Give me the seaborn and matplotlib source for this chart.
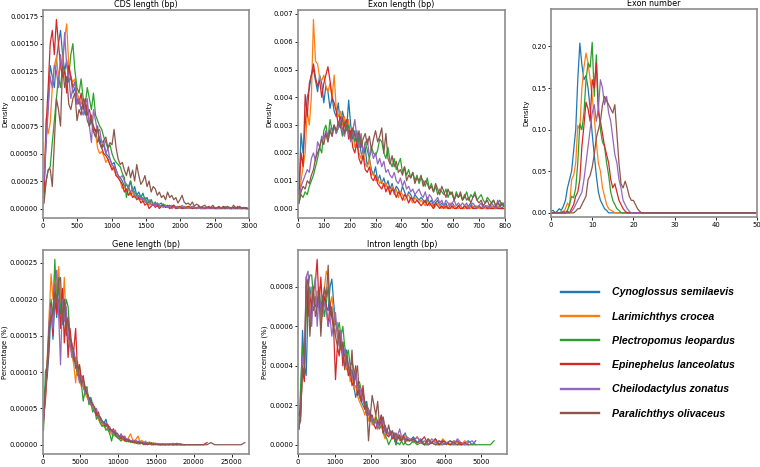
import numpy as np
import pandas as pd
import matplotlib
matplotlib.use("Agg")
import matplotlib.pyplot as plt
from matplotlib.lines import Line2D
import seaborn as sns

nan = np.nan

species = ["Cynoglossus semilaevis", "Larimichthys crocea", "Plectropomus leopardus",
           "Epinephelus lanceolatus", "Cheilodactylus zonatus", "Paralichthys olivaceus"]
colors = sns.color_palette("tab10", 6)

# ---- CDS length, bin centres every 30 bp, values x1e-5
cds_x = np.arange(15, 3000, 30)
cds_cyno = [20, 60, 95, 130, 120, 110, 135, 150, 162, 140, 125, 135, 115, 120, 105, 110, 95, 100, 90, 95,
            85, 95, 75, 80, 70, 72, 60, 65, 55, 58, 50, 48, 45, 40, 42, 35, 30, 28, 25, 20,
            22, 18, 25, 15, 20, 12, 15, 10, 14, 8, 10, 5, 8, 3, 6, 2, 4, 5, 2, 3,
            2, 3, 1, 2, 0, 2, 1, 0, 2, 1, 0, 1, 2, 0, 1, 0, 1, 0, 0, 1,
            0, 1, 0, 0, 1, 0, 0, 1, 0, 0, 1, 0, 0, 0, 1, 0, 0, 0, 0, 0]
cds_lari = [15, 82, 68, 78, 110, 130, 138, 120, 130, 135, 155, 168, 130, 120, 115, 118, 105, 100, 95, 98,
            90, 92, 80, 85, 70, 68, 55, 50, 52, 48, 42, 45, 40, 38, 35, 30, 28, 25, 18, 20,
            15, 18, 12, 15, 10, 12, 8, 10, 6, 8, 5, 3, 6, 4, 2, 5, 3, 2, 4, 1,
            2, 1, 3, 1, 0, 2, 1, 0, 1, 2, 0, 1, 0, 1, 0, 0, 1, 0, 0, 1,
            0, 0, 1, 0, 0, 1, 0, 0, 0, 1, 0, 0, 1, 0, 0, 0, 0, 1, 0, 0]
cds_plec = [10, 25, 35, 38, 60, 80, 100, 120, 110, 130, 125, 115, 120, 140, 150, 125, 110, 105, 118, 100,
            95, 110, 100, 90, 105, 85, 80, 75, 72, 65, 60, 55, 58, 50, 45, 42, 40, 38, 32, 28,
            10, 20, 25, 18, 15, 12, 10, 12, 8, 10, 6, 5, 8, 4, 3, 5, 2, 3, 4, 2,
            3, 1, 2, 3, 1, 0, 2, 1, 0, 1, 2, 1, 0, 1, 0, 1, 0, 0, 1, 0,
            1, 0, 0, 1, 0, 0, 1, 0, 2, 0, 0, 1, 0, 0, 0, 1, 0, 0, 0, 0]
cds_epin = [15, 75, 110, 150, 162, 140, 172, 150, 130, 120, 125, 105, 130, 120, 110, 115, 100, 95, 105, 90,
            100, 85, 90, 80, 75, 70, 72, 60, 55, 50, 48, 45, 40, 35, 38, 30, 28, 25, 22, 15,
            18, 12, 15, 10, 12, 8, 10, 5, 7, 3, 5, 0, 2, 4, 1, 3, 0, 2, 3, 1,
            2, 0, 1, 3, 0, 1, 2, 0, 1, 0, 2, 1, 0, 1, 0, 2, 0, 1, 0, 0,
            1, 0, 1, 0, 0, 1, 0, 2, 0, 1, 0, 0, 1, 0, 2, 0, 1, 0, 1, 0]
cds_chei = [25, 60, 90, 120, 110, 130, 125, 110, 140, 125, 160, 130, 120, 100, 110, 115, 95, 100, 90, 85,
            95, 100, 75, 60, 90, 80, 70, 72, 60, 62, 50, 55, 45, 40, 38, 35, 30, 28, 30, 25,
            22, 20, 15, 18, 12, 10, 12, 8, 10, 6, 5, 8, 3, 5, 2, 4, 3, 2, 1, 3,
            1, 2, 0, 1, 2, 1, 0, 3, 1, 0, 1, 0, 2, 1, 0, 1, 0, 0, 1, 0,
            0, 1, 0, 1, 0, 0, 1, 0, 0, 1, 0, 0, 0, 1, 0, 0, 0, 1, 0, 0]
cds_para = [5, 25, 35, 36, 20, 60, 100, 90, 75, 130, 110, 120, 95, 90, 100, 105, 80, 90, 85, 100,
            95, 80, 75, 85, 70, 65, 75, 60, 55, 62, 65, 55, 60, 58, 72, 55, 45, 40, 42, 35,
            30, 38, 28, 35, 25, 40, 30, 22, 25, 30, 20, 25, 15, 20, 18, 12, 15, 10, 12, 8,
            15, 10, 12, 8, 10, 5, 8, 12, 6, 4, 5, 3, 6, 2, 4, 3, 1, 2, 3, 1,
            2, 1, 3, 0, 1, 2, 0, 1, 0, 2, 1, 0, 3, 1, 0, 2, 0, 1, 0, 0]

# ---- Exon length, bin centres every 8 bp, values x1e-4
exl_x = np.arange(4, 800, 8)
exl_cyno = [5, 27, 20, 30, 40, 43, 48, 50, 46, 42, 48, 45, 38, 44, 42, 36, 40, 35, 33, 38,
            30, 35, 32, 28, 39, 30, 25, 28, 22, 26, 20, 18, 22, 15, 18, 14, 12, 15, 10, 12,
            9, 11, 8, 10, 7, 9, 6, 8, 7, 5, 8, 6, 4, 6, 5, 3, 5, 4, 3, 4,
            3, 2, 4, 2, 3, 1, 2, 3, 1, 2, 1, 2, 0, 1, 2, 1, 0, 1, 1, 0,
            1, 0, 1, 2, 0, 1, 0, 1, 0, 1, 0, 0, 1, 0, 1, 0, 0, 1, 0, 1]
exl_lari = [2, 10, 15, 20, 35, 30, 40, 68, 53, 52, 47, 46, 48, 44, 42, 45, 40, 48, 36, 33,
            35, 30, 33, 28, 32, 25, 28, 22, 24, 20, 18, 21, 16, 15, 18, 12, 13, 10, 11, 9,
            10, 8, 9, 7, 6, 8, 5, 7, 4, 6, 5, 3, 4, 5, 3, 2, 4, 3, 2, 3,
            2, 1, 3, 1, 2, 0, 1, 2, 1, 0, 1, 0, 1, 2, 0, 1, 0, 0, 1, 0,
            0, 1, 0, 0, 1, 0, 1, 0, 0, 1, 0, 0, 0, 1, 0, 0, 1, 0, 0, 0]
exl_plec = [2, 5, 4, 6, 5, 8, 10, 12, 15, 18, 22, 20, 28, 30, 25, 32, 28, 30, 27, 29,
            30, 26, 31, 28, 30, 25, 27, 24, 28, 22, 26, 20, 24, 21, 18, 22, 20, 19, 21, 25,
            24, 20, 18, 22, 17, 15, 18, 14, 16, 18, 13, 15, 12, 14, 11, 13, 10, 12, 9, 11,
            10, 8, 11, 7, 9, 6, 8, 5, 7, 6, 5, 7, 4, 6, 5, 3, 6, 4, 5, 3,
            4, 6, 3, 5, 4, 6, 3, 4, 5, 3, 2, 4, 3, 2, 3, 1, 2, 3, 1, 2]
exl_epin = [5, 20, 15, 41, 33, 45, 48, 52, 47, 44, 46, 40, 45, 48, 51, 46, 40, 38, 35, 30,
            33, 28, 30, 32, 25, 28, 22, 20, 24, 18, 16, 19, 14, 13, 15, 11, 10, 12, 9, 8,
            7, 9, 6, 8, 5, 7, 6, 4, 6, 5, 3, 5, 4, 2, 4, 3, 2, 3, 2, 1,
            2, 3, 1, 2, 1, 0, 2, 1, 0, 1, 0, 1, 0, 0, 1, 0, 0, 1, 0, 0,
            1, 0, 0, 1, 0, 0, 0, 1, 0, 0, 1, 0, 0, 0, 0, 1, 0, 0, 0, 0]
exl_chei = [3, 8, 10, 12, 14, 13, 18, 20, 17, 24, 22, 26, 25, 28, 24, 29, 26, 30, 27, 29,
            32, 28, 26, 30, 27, 24, 28, 32, 25, 22, 27, 20, 23, 25, 19, 21, 18, 20, 16, 18,
            15, 17, 13, 14, 12, 11, 13, 10, 9, 11, 8, 10, 7, 8, 6, 7, 5, 6, 7, 5,
            4, 6, 3, 5, 4, 2, 3, 4, 2, 3, 1, 3, 2, 1, 2, 3, 1, 2, 1, 2,
            1, 2, 0, 1, 2, 1, 0, 1, 2, 0, 1, 1, 0, 2, 1, 0, 3, 1, 2, 1]
exl_para = [2, 6, 8, 7, 10, 9, 12, 14, 18, 20, 22, 25, 23, 27, 24, 28, 26, 30, 28, 31,
            29, 33, 27, 30, 28, 25, 29, 26, 24, 28, 22, 25, 27, 23, 26, 21, 25, 28, 24, 26,
            29, 20, 27, 18, 16, 19, 15, 17, 13, 14, 12, 15, 10, 12, 11, 13, 9, 11, 10, 12,
            8, 10, 9, 7, 8, 6, 9, 7, 5, 8, 6, 4, 7, 5, 6, 3, 5, 4, 6, 3,
            5, 3, 4, 2, 4, 5, 3, 2, 3, 1, 2, 3, 1, 2, 3, 1, 2, 1, 2, 1]

# ---- Exon number, every 0.5 up to 22, then flat to 50, values x1e-3
exn_x = list(np.arange(0, 22.5, 0.5)) + [50]
exn_cyno = [2, 3, 0, 2, 5, 3, 8, 15, 30, 40,
            50, 75, 100, 160, 204, 178, 160, 165, 150, 125,
            95, 70, 45, 25, 15, 10, 5, 3, 0, 0,
            0, 0, 0, 0, 0, 0, 0, 0, 0, 0,
            0, 0, 0, 0, 0, 0]
exn_lari = [0, 0, 0, 0, 0, 2, 0, 5, 12, 8,
            40, 45, 60, 105, 100, 150, 175, 192, 180, 160,
            140, 115, 85, 60, 50, 30, 20, 10, 5, 3,
            2, 0, 0, 0, 0, 0, 0, 0, 0, 0,
            0, 0, 0, 0, 0, 0]
exn_plec = [0, 0, 0, 0, 0, 0, 2, 0, 3, 10,
            20, 18, 30, 60, 107, 100, 120, 160, 180, 175,
            205, 140, 190, 130, 100, 85, 80, 60, 45, 25,
            15, 10, 5, 3, 0, 0, 0, 0, 0, 0,
            0, 0, 0, 0, 0, 0]
exn_epin = [0, 0, 0, 0, 0, 0, 0, 0, 2, 0,
            5, 10, 20, 25, 40, 80, 105, 133, 125, 110,
            160, 150, 180, 120, 110, 95, 80, 70, 60, 40,
            30, 35, 25, 15, 10, 5, 2, 0, 0, 0,
            0, 0, 0, 0, 0, 0]
exn_chei = [0, 0, 0, 0, 0, 0, 0, 0, 0, 0,
            2, 5, 10, 15, 20, 25, 40, 60, 80, 100,
            120, 130, 110, 125, 160, 150, 130, 140, 120, 110,
            90, 70, 60, 40, 30, 15, 10, 5, 2, 0,
            0, 0, 0, 0, 0, 0]
exn_para = [0, 0, 0, 0, 0, 0, 0, 0, 0, 0,
            0, 0, 2, 5, 5, 10, 15, 20, 40, 45,
            55, 70, 90, 100, 110, 130, 140, 135, 130, 125,
            120, 130, 95, 60, 35, 30, 38, 30, 20, 15,
            15, 10, 5, 2, 0, 0]

# ---- Gene length, every 250 bp to 16 kb then every 500 bp, values x1e-6
gene_x = list(np.arange(125, 16000, 250)) + list(np.arange(16250, 27000, 500))
gene_cyno = [40, 80, 95, 130, 190, 145, 200, 175, 220, 190, 165, 200, 150, 170, 140, 130,
             120, 110, 100, 90, 95, 80, 75, 70, 60, 65, 55, 50, 45, 40, 38, 32,
             30, 35, 25, 22, 20, 15, 18, 12, 10, 15, 8, 10, 6, 8, 5, 4,
             6, 3, 5, 2, 4, 1, 3, 2, 1, 3, 0, 2, 1, 0, 1, 0] + [0, 1, 0, 0, 1] + [nan] * 17
gene_lari = [30, 70, 120, 180, 235, 200, 240, 210, 245, 200, 180, 230, 160, 150, 135, 125,
             110, 85, 115, 90, 80, 85, 70, 65, 60, 55, 50, 45, 42, 35, 30, 28,
             25, 22, 20, 18, 15, 12, 14, 10, 8, 12, 6, 8, 5, 10, 15, 8,
             5, 8, 12, 4, 6, 3, 5, 2, 4, 1, 3, 0, 2, 1, 0, 1] + [0, 1, 0, 0, 1, 0] + [nan] * 16
gene_plec = [20, 100, 110, 150, 200, 175, 255, 190, 230, 180, 210, 170, 200, 190, 150, 130,
             115, 120, 95, 110, 85, 60, 75, 80, 55, 60, 45, 50, 35, 40, 30, 25,
             28, 20, 22, 15, 5, 18, 12, 10, 8, 5, 10, 6, 4, 7, 3, 5,
             2, 4, 1, 3, 2, 0, 2, 1, 3, 0, 1, 2, 0, 1, 0, 1] + [0, 1, 0, 2, 0] + [nan] * 17
gene_epin = [35, 60, 100, 160, 195, 150, 220, 180, 200, 160, 215, 140, 180, 120, 160, 135,
             130, 160, 100, 110, 90, 95, 75, 70, 65, 60, 55, 50, 40, 45, 35, 30,
             30, 25, 28, 20, 18, 22, 15, 12, 10, 8, 10, 5, 8, 4, 6, 3,
             5, 2, 4, 1, 3, 2, 0, 1, 2, 0, 1, 0, 1, 0, 0, 1] + [0, 0, 1, 0, 0, 0, 0, 0, 0, 0, 0, 3] + [nan] * 10
gene_chei = [30, 70, 110, 170, 190, 160, 215, 240, 180, 110, 200, 170, 190, 150, 140, 120,
             130, 115, 100, 85, 95, 80, 70, 75, 60, 55, 58, 45, 50, 38, 35, 30,
             28, 30, 22, 25, 18, 15, 20, 12, 10, 14, 8, 12, 6, 8, 5, 6,
             4, 6, 3, 5, 2, 4, 1, 3, 2, 1, 0, 2, 1, 0, 1, 0] + [1, 0, 2, 0, 1, 0] + [nan] * 16
gene_para = [35, 75, 115, 160, 175, 180, 210, 195, 225, 230, 170, 200, 160, 175, 145, 140,
             125, 105, 110, 95, 85, 90, 80, 70, 65, 60, 55, 52, 45, 40, 38, 33,
             30, 28, 25, 22, 20, 18, 15, 16, 12, 10, 12, 8, 7, 6, 5, 4,
             5, 3, 4, 2, 3, 1, 2, 0, 1, 2, 0, 1, 0, 1, 0, 0] + [1, 0, 0, 1, 0, 0, 0, 0, 0, 0, 0, 0, 3, 0, 0, 0, 0, 0, 0, 0, 0, 3]

# ---- Intron length, every 50 bp to 3 kb then every 100 bp, values x1e-5
intr_x = list(np.arange(25, 3000, 50)) + list(np.arange(3050, 5400, 100))
intr_cyno = [8, 20, 58, 40, 35, 70, 80, 72, 68, 75, 70, 80, 65, 75, 78, 70, 68, 80, 84, 72,
             62, 60, 55, 50, 52, 45, 48, 40, 35, 38, 30, 24, 28, 25, 22, 20, 18, 22, 15, 16,
             14, 12, 13, 10, 12, 15, 8, 10, 7, 5, 6, 7, 4, 0, 5, 3, 2, 4, 6, 3] + \
            [2, 4, 1, 3, 0, 2, 1, 3, 0, 2, 1, 0, 2, 1, 0, 1, 2, 0, 2] + [nan] * 5
intr_lari = [8, 15, 40, 35, 75, 70, 65, 80, 72, 70, 78, 75, 60, 70, 80, 88, 85, 70, 75, 68,
             55, 62, 50, 48, 45, 42, 38, 40, 32, 35, 28, 30, 25, 22, 20, 18, 15, 20, 12, 15,
             10, 12, 15, 8, 10, 12, 6, 3, 8, 5, 7, 4, 6, 3, 5, 2, 4, 3, 5, 2] + \
            [3, 1, 4, 2, 0, 3, 1, 2, 0, 3, 1, 0, 2, 1, 0, 2, 1] + [nan] * 7
intr_plec = [8, 30, 50, 40, 65, 80, 86, 86, 75, 70, 72, 78, 70, 74, 65, 72, 80, 70, 65, 60,
             62, 58, 62, 55, 60, 50, 45, 48, 40, 42, 38, 35, 30, 32, 28, 25, 22, 20, 18, 15,
             12, 10, 14, 12, 8, 10, 6, 5, 3, 0, 2, 4, 3, 0, 1, 0, 2, 0, 1, 0] + \
            [0, 2, 0, 1, 0, 0, 1, 0, 0, 0, 1, 0, 0, 0, 0, 0, 0, 0, 0, 0, 0, 0, 0, 2]
intr_epin = [15, 18, 38, 32, 85, 65, 75, 70, 78, 82, 94, 70, 85, 68, 75, 70, 60, 72, 65, 58,
             33, 50, 45, 55, 40, 48, 42, 35, 38, 30, 32, 40, 25, 28, 22, 30, 20, 15, 18, 12,
             15, 10, 8, 12, 10, 15, 6, 8, 5, 4, 6, 3, 5, 2, 4, 3, 2, 5, 1, 3] + \
            [2, 3, 1, 2, 4, 0, 1, 3, 0, 2, 1, 0, 1, 2, 0, 1, 0] + [nan] * 7
intr_chei = [10, 12, 45, 40, 85, 88, 70, 60, 78, 85, 60, 75, 70, 65, 72, 68, 60, 65, 55, 62,
             67, 55, 50, 58, 45, 48, 42, 38, 40, 35, 32, 38, 28, 30, 25, 22, 20, 15, 18, 12,
             14, 10, 12, 8, 13, 10, 14, 6, 8, 5, 7, 4, 6, 3, 5, 8, 4, 3, 2, 4] + \
            [3, 2, 4, 1, 2, 0, 3, 1, 2, 0, 1, 2, 0, 3, 1, 0, 1, 2, 0] + [nan] * 5
intr_para = [8, 15, 40, 35, 80, 84, 55, 70, 80, 65, 70, 78, 55, 72, 80, 75, 91, 65, 70, 60,
             55, 50, 58, 48, 52, 38, 45, 40, 35, 48, 30, 35, 40, 25, 22, 28, 18, 20, 2, 15,
             25, 20, 15, 22, 10, 12, 14, 8, 6, 10, 5, 7, 4, 6, 3, 5, 2, 4, 3, 2] + \
            [2, 3, 1, 2, 0, 3, 1, 0, 2, 1, 0, 2, 1, 0, 1] + [nan] * 9


def long_frame(x, series, scale):
    parts = []
    for name, vals in zip(species, series):
        parts.append(pd.DataFrame({"x": np.asarray(x, float),
                                   "y": np.asarray(vals, float) * scale,
                                   "species": name}))
    return pd.concat(parts, ignore_index=True).dropna()


def draw(ax, df, title, ylabel, xlim, xticks, ylim=None, yticks=None):
    sns.lineplot(data=df, x="x", y="y", hue="species", hue_order=species,
                 palette=colors, estimator=None, linewidth=0.9, legend=False, ax=ax)
    ax.set_title(title, fontsize=5.8, pad=2)
    ax.set_xlabel("")
    ax.set_ylabel(ylabel, fontsize=5, labelpad=1.2)
    ax.set_xlim(*xlim)
    ax.set_xticks(xticks)
    if ylim is not None:
        ax.set_ylim(*ylim)
    if yticks is not None:
        ax.set_yticks(yticks)
    ax.tick_params(labelsize=4.9, length=2.2, width=0.6, pad=1.2)
    for sp in ax.spines.values():
        sp.set_color("#8c8c8c")
        sp.set_linewidth(1.2)


fig = plt.figure(figsize=(7.6, 4.67), dpi=100)
ax1 = fig.add_axes([0.0566, 0.5332, 0.271, 0.4454])
ax2 = fig.add_axes([0.392, 0.5332, 0.2724, 0.4454])
ax3 = fig.add_axes([0.725, 0.5353, 0.271, 0.4454])
ax4 = fig.add_axes([0.056, 0.0278, 0.2717, 0.4368])
ax5 = fig.add_axes([0.392, 0.0278, 0.275, 0.4368])

draw(ax1, long_frame(cds_x, [cds_cyno, cds_lari, cds_plec, cds_epin, cds_chei, cds_para], 1e-5),
     "CDS length (bp)", "Density", (0, 3000), range(0, 3001, 500))
draw(ax2, long_frame(exl_x, [exl_cyno, exl_lari, exl_plec, exl_epin, exl_chei, exl_para], 1e-4),
     "Exon length (bp)", "Density", (0, 800), range(0, 801, 100))
draw(ax3, long_frame(exn_x, [exn_cyno, exn_lari, exn_plec, exn_epin, exn_chei, exn_para], 1e-3),
     "Exon number", "Density", (0, 50), range(0, 51, 10), ylim=(-0.005, 0.245),
     yticks=[0, 0.05, 0.10, 0.15, 0.20])
draw(ax4, long_frame(gene_x, [gene_cyno, gene_lari, gene_plec, gene_epin, gene_chei, gene_para], 1e-6),
     "Gene length (bp)", "Percentage (%)", (0, 27300), range(0, 25001, 5000))
draw(ax5, long_frame(intr_x, [intr_cyno, intr_lari, intr_plec, intr_epin, intr_chei, intr_para], 1e-5),
     "Intron length (bp)", "Percentage (%)", (0, 5700), range(0, 5001, 1000))

handles = [Line2D([], [], color=c, linewidth=1.7) for c in colors]
fig.legend(handles, species, loc="center left", bbox_to_anchor=(561 / 760, 0.244),
           frameon=False, handlelength=3.6, handletextpad=1.25, labelspacing=1.35,
           borderpad=0, borderaxespad=0,
           prop={"family": ["Liberation Sans", "DejaVu Sans"], "weight": "bold",
                 "style": "italic", "size": 7.6})

fig.savefig("out.png", dpi=100)
